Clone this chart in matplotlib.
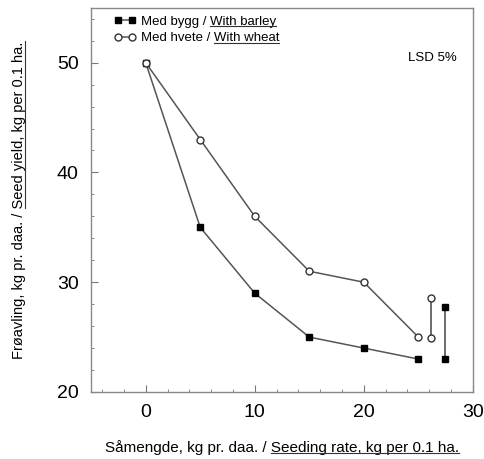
import matplotlib
matplotlib.use("Agg")
import matplotlib.pyplot as plt
from matplotlib.lines import Line2D
from matplotlib.ticker import MultipleLocator

plt.rcParams.update({
    "font.family": ["Liberation Sans", "DejaVu Sans"],
})

# Seeding rate (kg per 0.1 ha)
rate = [0, 5, 10, 15, 20, 25]
barley = [50, 35, 29, 25, 24, 23]
wheat = [50, 43, 36, 31, 30, 25]

# LSD 5% bars (x position, low, high)
lsd_barley = (27.4, 23.0, 27.7)
lsd_wheat = (26.2, 24.9, 28.6)

xlab_pre, xlab_ul = "Såmengde, kg pr. daa. / ", "Seeding rate, kg per 0.1 ha."
ylab_pre, ylab_ul = "Frøavling, kg pr. daa. / ", "Seed yield, kg per 0.1 ha."
leg_pre = ["Med bygg / ", "Med hvete / "]
leg_ul = ["With barley", "With wheat"]

fig = plt.figure(figsize=(4.85, 4.59), dpi=100)
ax = fig.add_axes([0.188, 0.146, 0.787, 0.837])

ax.plot(rate, barley, color="#555555", linewidth=1.1, marker="s", markersize=5,
        markerfacecolor="black", markeredgecolor="black",
        label=leg_pre[0] + leg_ul[0])
ax.plot(rate, wheat, color="#555555", linewidth=1.1, marker="o", markersize=5,
        markerfacecolor="white", markeredgecolor="#333333",
        label=leg_pre[1] + leg_ul[1])

ax.plot([lsd_wheat[0]] * 2, lsd_wheat[1:], color="#444444", linewidth=1.1,
        marker="o", markersize=5, markerfacecolor="white", markeredgecolor="#333333")
ax.plot([lsd_barley[0]] * 2, lsd_barley[1:], color="#444444", linewidth=1.1,
        marker="s", markersize=5, markerfacecolor="black", markeredgecolor="black")

ax.text(0.895, 0.87, "LSD 5%", transform=ax.transAxes, ha="center", va="center",
        fontsize=9.5)

ax.set_xlim(-5, 30)
ax.set_ylim(20, 55)
ax.xaxis.set_major_locator(MultipleLocator(10))
ax.xaxis.set_minor_locator(MultipleLocator(2))
ax.yaxis.set_major_locator(MultipleLocator(10))
ax.yaxis.set_minor_locator(MultipleLocator(2))
ax.tick_params(which="both", direction="in", color="#777777")
ax.tick_params(which="major", length=5, labelsize=14, pad=9)
ax.tick_params(which="minor", length=2.5)
for s in ax.spines.values():
    s.set_color("#888888")
    s.set_linewidth(1.0)

xl = ax.set_xlabel(xlab_pre + xlab_ul, fontsize=11, labelpad=13)
yl = ax.set_ylabel(ylab_pre + ylab_ul, fontsize=10.5, labelpad=22)

leg = ax.legend(loc="upper left", bbox_to_anchor=(0.04, 1.0), frameon=False,
                fontsize=9.5, numpoints=2, handlelength=1.6, handletextpad=0.4,
                labelspacing=0.3, borderaxespad=0.2)

# underline the english part of each label
fig.canvas.draw()
renderer = fig.canvas.get_renderer()
W, H = fig.bbox.width, fig.bbox.height


def underline(t, prefix, vertical=False):
    bb = t.get_window_extent(renderer)
    tmp = fig.text(0, 0, prefix, fontproperties=t.get_fontproperties())
    pw = tmp.get_window_extent(renderer).width
    tmp.remove()
    if vertical:
        x = bb.x1 - 1.5
        xs, ys = [x, x], [bb.y0 + pw, bb.y1]
    else:
        y = bb.y0 + 1.5
        xs, ys = [bb.x0 + pw, bb.x1], [y, y]
    fig.add_artist(Line2D([v / W for v in xs], [v / H for v in ys],
                          transform=fig.transFigure, color="#333333", linewidth=0.8))


underline(xl, xlab_pre)
underline(yl, ylab_pre, vertical=True)
for t, p in zip(leg.get_texts(), leg_pre):
    underline(t, p)

fig.savefig("out.png", dpi=100)
